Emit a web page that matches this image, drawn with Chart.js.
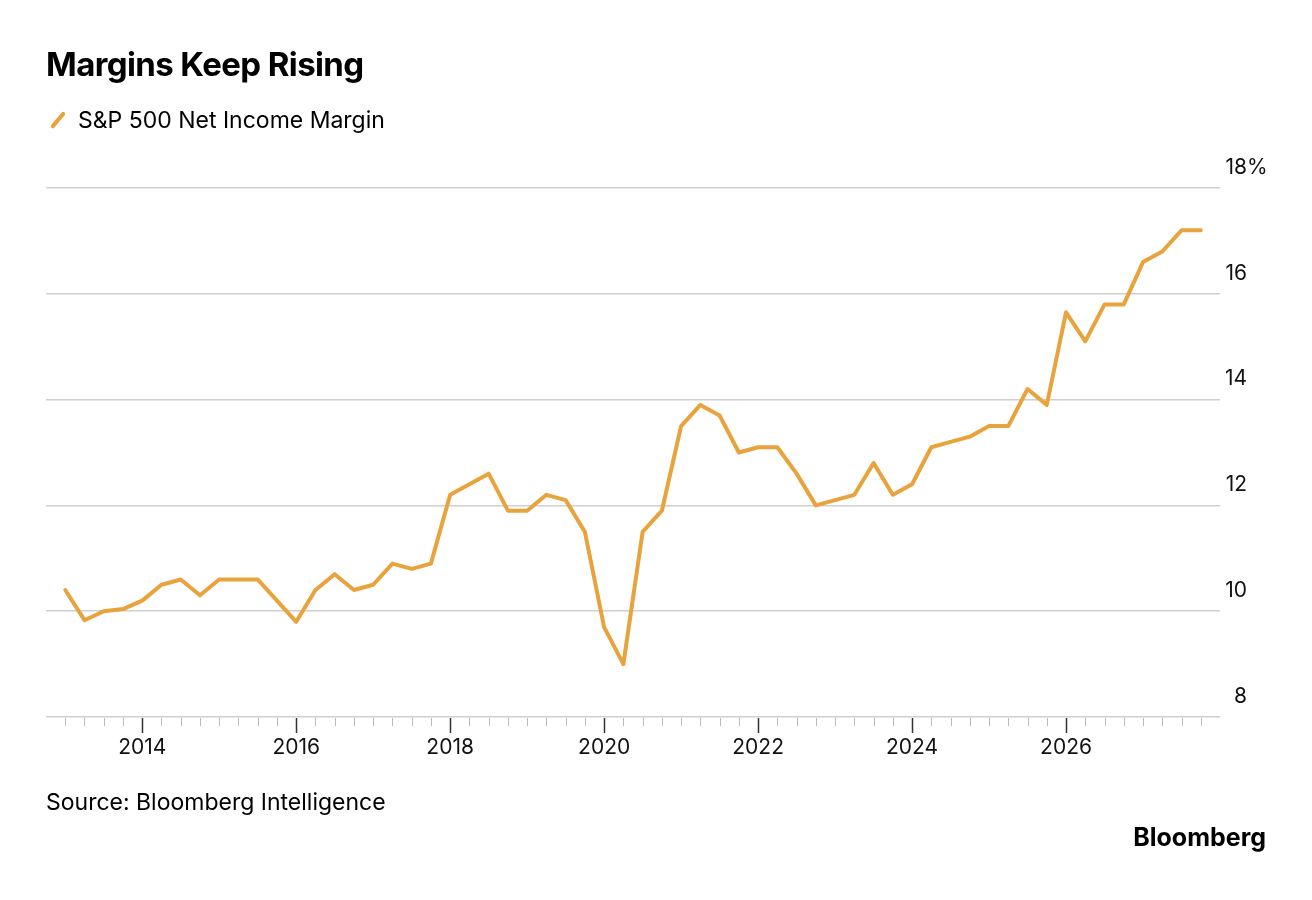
<!DOCTYPE html>
<html>
<head>
<meta charset="utf-8">
<script src="https://cdn.jsdelivr.net/npm/chart.js@4"></script>
<style>
  body { margin: 0; background: #fff; font-family: "Inter", "Liberation Sans", sans-serif; }
  #wrap { position: relative; width: 1312px; height: 900px; }
  canvas { position: absolute; left: 0; top: 0; }
  .t { position: absolute; color: #000; white-space: nowrap; }
  #title { left: 46px; top: 44px; font-size: 33px; font-weight: 700; letter-spacing: -0.6px; }
  #legend { left: 48px; top: 106px; font-size: 23px; }
  #legend i { display: inline-block; width: 4px; height: 20px; background: #E8A33D; transform: rotate(40deg); margin: 0 18px 0 8px; vertical-align: -2px; border-radius: 2px; }
  #source { left: 46px; top: 788px; font-size: 23px; }
  #brand { right: 46px; top: 822px; font-size: 25px; font-weight: 700; }
</style>
</head>
<body>
<div id="wrap">
  <canvas id="c" width="1312" height="900"></canvas>
  <div class="t" id="title">Margins Keep Rising</div>
  <div class="t" id="legend"><i></i>S&amp;P 500 Net Income Margin</div>
  <div class="t" id="source">Source: Bloomberg Intelligence</div>
  <div class="t" id="brand">Bloomberg</div>
</div>
<script>
// Quarterly S&P 500 net income margin, 2013 Q1 .. 2027 Q4 (%)
const START_YEAR = 2013;
const margins = [
  10.4, 9.83, 10.0, 10.04, 10.2, 10.5, 10.6, 10.3, 10.6, 10.6,
  10.6, 10.2, 9.8, 10.4, 10.7, 10.4, 10.5, 10.9, 10.8, 10.9,
  12.2, 12.4, 12.6, 11.9, 11.9, 12.2, 12.1, 11.5, 9.7, 9.0,
  11.5, 11.9, 13.5, 13.9, 13.7, 13.0, 13.1, 13.1, 12.6, 12.0,
  12.1, 12.2, 12.8, 12.2, 12.4, 13.1, 13.2, 13.3, 13.5, 13.5,
  14.2, 13.9, 15.65, 15.1, 15.8, 15.8, 16.6, 16.8, 17.2, 17.2,
];
const yTicks = [8, 10, 12, 14, 16, 18];
const xLabelYears = [2014, 2016, 2018, 2020, 2022, 2024, 2026];

const points = margins.map((v, i) => ({ x: START_YEAR + i * 0.25, y: v }));

// Axis decorations: quarter ticks, year labels, y labels above gridlines
const decor = {
  id: "decor",
  afterDraw(chart) {
    const { ctx: c, scales: { x, y } } = chart;
    const base = y.getPixelForValue(8);
    c.save();
    for (let q = 0; q <= 59; q++) {
      const v = START_YEAR + q * 0.25;
      const px = Math.round(x.getPixelForValue(v)) + 0.5;
      const major = xLabelYears.includes(v);
      c.strokeStyle = major ? "#333" : "#bbb";
      c.lineWidth = major ? 1.5 : 1;
      c.beginPath();
      c.moveTo(px, base + 1);
      c.lineTo(px, base + (major ? 16 : 9));
      c.stroke();
    }
    c.fillStyle = "#111";
    c.font = "21px Inter, sans-serif";
    c.textAlign = "center";
    c.textBaseline = "middle";
    xLabelYears.forEach(yr => c.fillText(String(yr), x.getPixelForValue(yr), base + 31));
    c.textAlign = "right";
    c.textBaseline = "bottom";
    yTicks.forEach(t => {
      const py = y.getPixelForValue(t) - 10;
      c.fillText(String(t), 1247, py);
      if (t === 18) { c.textAlign = "left"; c.fillText("%", 1247, py); c.textAlign = "right"; }
    });
    c.restore();
  },
};

new Chart(document.getElementById("c"), {
  type: "line",
  data: {
    datasets: [{
      data: points,
      borderColor: "#E8A33D",
      borderWidth: 4,
      pointRadius: 0,
      tension: 0,
      borderJoinStyle: "round",
      borderCapStyle: "round",
    }],
  },
  options: {
    responsive: false,
    animation: false,
    layout: { padding: { left: 46, right: 92, top: 188, bottom: 183 } },
    plugins: { legend: { display: false }, tooltip: { enabled: false } },
    scales: {
      x: {
        type: "linear",
        min: 2012.75,
        max: 2028,
        ticks: { display: false },
        grid: { display: false },
        border: { display: false },
        afterFit: s => { s.height = 0; },
      },
      y: {
        min: 8,
        max: 18,
        position: "right",
        ticks: { display: false, stepSize: 2 },
        grid: { color: "#cfcfcf", lineWidth: 1.5, drawTicks: false },
        border: { display: false },
        afterFit: s => { s.width = 0; },
      },
    },
  },
  plugins: [decor],
});
</script>
</body>
</html>
